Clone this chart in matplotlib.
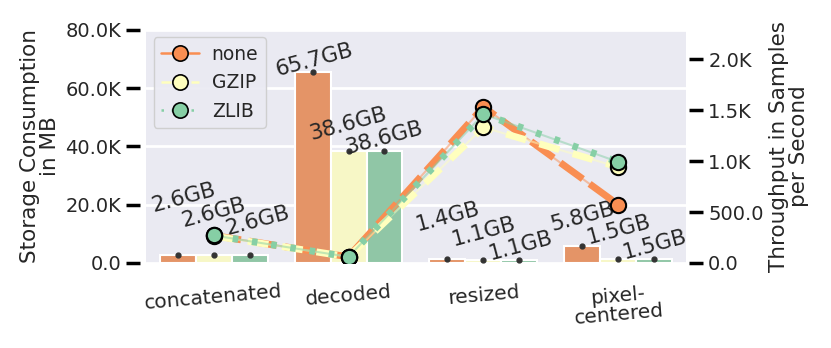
import numpy as np
import matplotlib
matplotlib.use("Agg")
import matplotlib.pyplot as plt
import seaborn as sns
from matplotlib.lines import Line2D
from matplotlib.ticker import FuncFormatter

categories = ["concatenated", "decoded", "resized", "pixel-\ncentered"]
methods = ["none", "GZIP", "ZLIB"]

# storage in MB
storage_none = [2600, 65700, 1400, 5800]
storage_gzip = [2600, 38600, 1100, 1500]
storage_zlib = [2600, 38600, 1100, 1500]

# throughput in samples per second
thr_none = [270, 60, 1530, 570]
thr_gzip = [265, 60, 1330, 940]
thr_zlib = [270, 60, 1460, 990]

storage = [storage_none, storage_gzip, storage_zlib]
throughput = [thr_none, thr_gzip, thr_zlib]

# label offsets (pixels) for the bar annotations
label_dy = [[58, 12, 42, 29],
            [43, 27, 28, 29],
            [35, 13, 14, 14]]
label_dx = [[6, 2, 0, 0],
            [0, 0, 0, 0],
            [8, 0, 1, 0]]

sns.set_style("darkgrid")
pal = sns.color_palette("Spectral", 3)
bar_cols = [sns.desaturate(c, 0.75) for c in pal]
line_styles = [(0, (4, 1.2)), (0, (3, 2)), (0, (0.8, 2))]
legend_styles = ["-", (0, (4, 2)), (0, (1, 3))]

def kfmt(v, pos):
    if v >= 1000:
        return "%.1fK" % (v / 1000)
    return "%.1f" % v

fig = plt.figure(figsize=(8.31, 3.48), dpi=100)
ax = fig.add_axes([0.1757, 0.2443, 0.6498, 0.6695])
ax2 = ax.twinx()

x = np.arange(len(categories))
w = 0.8 / 3
for i in range(3):
    xs = x + (i - 1) * w
    ax.bar(xs, storage[i], width=w, color=bar_cols[i], edgecolor="white", linewidth=1.5, zorder=2)
    ax.plot(xs, storage[i], "o", color="#333333", ms=3.5, zorder=3)
    for j in range(len(categories)):
        gb = storage[i][j] / 1000
        ax.annotate("%.1fGB" % gb, xy=(xs[j], storage[i][j]),
                    xytext=(label_dx[i][j], label_dy[i][j]), textcoords="offset pixels",
                    ha="center", va="center", rotation=15, fontsize=15.5, color="#262626", zorder=4)

for i in range(3):
    ax2.plot(x, throughput[i], "-", color=pal[i], lw=1.5, alpha=0.5, zorder=3)
    ax2.plot(x, throughput[i], linestyle=line_styles[i], color=pal[i], lw=5, zorder=3,
             solid_capstyle="butt", dash_capstyle="butt")
for i in range(3):
    ax2.plot(x, throughput[i], "o", color=pal[i], ms=11, mec="black", mew=1.5, zorder=5)

ax.set_xlim(-0.5, 3.5)
ax.set_ylim(0, 80000)
ax2.set_ylim(0, 2285)
ax.set_yticks([0, 20000, 40000, 60000, 80000])
ax2.set_yticks([0, 500, 1000, 1500, 2000])
ax.yaxis.set_major_formatter(FuncFormatter(kfmt))
ax2.yaxis.set_major_formatter(FuncFormatter(kfmt))
ax2.grid(False)
ax.grid(axis="x", visible=False)
ax.grid(axis="y", color="white", linewidth=2)
ax.set_xticks(x)
ax.set_xticklabels(categories, rotation=5, fontsize=14.5, linespacing=1.0)
ax.tick_params(axis="x", length=0, pad=14)
ax.tick_params(axis="y", length=10, width=2.5, color="black", labelsize=14, pad=4, left=True)
ax2.tick_params(axis="y", length=10, width=2.5, color="black", labelsize=14, pad=4, right=True)
ax.spines["left"].set_position(("outward", 4))
ax2.spines["right"].set_position(("outward", 2))
for a in (ax, ax2):
    for s in a.spines.values():
        s.set_visible(False)

ax.set_ylabel("Storage Consumption\nin MB", fontsize=15.5, linespacing=1.0)
ax2.set_ylabel("Throughput in Samples\nper Second", fontsize=15.5, linespacing=1.0)

handles = [Line2D([0], [0], color=pal[i], linestyle=legend_styles[i], lw=1.8,
                  marker="o", ms=11, mfc=pal[i], mec="black", mew=1.2) for i in range(3)]
leg = ax2.legend(handles, methods, loc="upper left", fontsize=13.5, handlelength=2.0,
                 handletextpad=0.7, borderpad=0.4, labelspacing=0.5,
                 frameon=True, facecolor="#EAEAF2", edgecolor="#cccccc", framealpha=0.9,
                 bbox_to_anchor=(0.0, 1.0), borderaxespad=0.4)
leg.set_zorder(10)

fig.savefig("out.png", dpi=100)
